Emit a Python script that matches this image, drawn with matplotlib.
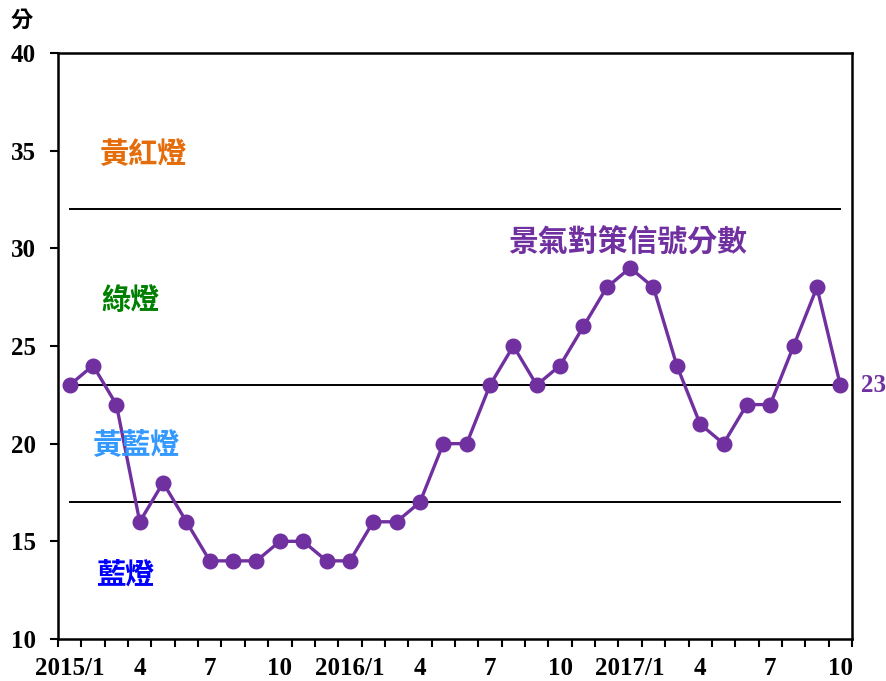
import matplotlib
matplotlib.use("Agg")
import matplotlib.pyplot as plt
import numpy as np

months = ["2015/1", "2", "3", "4", "5", "6", "7", "8", "9", "10", "11", "12",
          "2016/1", "2", "3", "4", "5", "6", "7", "8", "9", "10", "11", "12",
          "2017/1", "2", "3", "4", "5", "6", "7", "8", "9", "10"]
scores = [23, 24, 22, 16, 18, 16, 14, 14, 14, 15, 15, 14,
          14, 16, 16, 17, 20, 20, 23, 25, 23, 24, 26, 28,
          29, 28, 24, 21, 20, 22, 22, 25, 28, 23]
thresholds = [32, 23, 17]
zone_labels = ["黃紅燈", "綠燈", "黃藍燈", "藍燈"]
zone_label_x = [1.24, 1.37, 0.98, 1.11]
zone_label_y = [34.8, 27.35, 20.0, 13.3]
zone_colors = ["#E46C0A", "#008000", "#3399FF", "#0000FF"]
series_name = "景氣對策信號分數"
y_ticks = [10, 15, 20, 25, 30, 35, 40]

purple = "#7030A0"
cjk = ["Noto Sans CJK TC", "DejaVu Sans"]
serif = "Liberation Serif"

fig = plt.figure(figsize=(8.87, 6.81), dpi=100)
ax = fig.add_axes([0.0654, 0.0617, 0.8951, 0.8605])

x = np.arange(len(months))
for t in thresholds:
    ax.plot([x[0], x[-1]], [t, t], color="black", lw=1.4, zorder=1)

ax.plot(x, scores, color=purple, lw=2.4, marker="o", markersize=10.5,
        markerfacecolor=purple, markeredgecolor=purple, zorder=3)

ax.set_xlim(-0.5, len(months) - 0.5)
ax.set_ylim(10, 40)
ax.set_yticks(y_ticks)
ax.set_yticklabels([str(v) for v in y_ticks], fontfamily=serif,
                   fontweight="bold", fontsize=18)

label_idx = list(range(0, len(months), 3))
ax.set_xticks(label_idx)
ax.set_xticklabels([months[i] for i in label_idx], fontfamily=serif,
                   fontweight="bold", fontsize=18)
ax.tick_params(axis="x", which="major", length=0, pad=13)
ax.set_xticks(np.arange(-0.5, len(months), 1.0), minor=True)
ax.tick_params(axis="x", which="minor", direction="out", length=6, width=1.5)
ax.tick_params(axis="y", direction="out", length=6, width=1.5, pad=10)

for s in ax.spines.values():
    s.set_linewidth(1.8)

for lab, xv, yv, col in zip(zone_labels, zone_label_x, zone_label_y, zone_colors):
    ax.text(xv, yv, lab, color=col, fontsize=21, fontfamily=cjk,
            fontweight="bold", ha="left", va="center")
ax.text(29.0, 30.3, series_name, color=purple, fontsize=21.5,
        fontfamily=cjk, fontweight="bold", ha="right", va="center")
ax.text(len(months) - 0.1, scores[-1], str(scores[-1]), color=purple,
        fontsize=18, fontfamily=serif, fontweight="bold", ha="left", va="center")

fig.text(0.012, 0.97, "分", fontsize=16, fontfamily=cjk, fontweight="bold",
         ha="left", va="center")

fig.savefig("out.png", dpi=100)
